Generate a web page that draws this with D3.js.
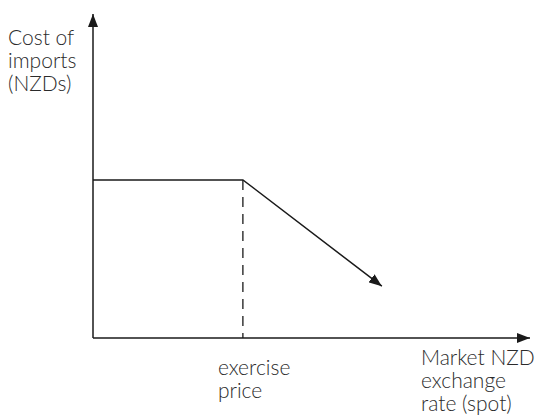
<!DOCTYPE html>
<html>
<head>
<meta charset="utf-8">
<script src="https://cdn.jsdelivr.net/npm/d3@7"></script>
<style>
  body { margin: 0; background: #fff; }
  text { font-family: "Lato", "Open Sans", sans-serif; font-weight: 300; fill: #2b2b2b; }
</style>
</head>
<body>
<div id="chart"></div>
<script>
// Payoff of a capped import cost: flat up to the exercise price, then falling
const rateValues = [0, 3.43, 6.61];
const costValues = [4.88, 4.88, 1.6];
const exercisePrice = 3.43;
const yLabelLines = ["Cost of", "imports", "(NZDs)"];
const xLabelLines = ["Market NZD", "exchange", "rate (spot)"];
const priceLabelLines = ["exercise", "price"];

const width = 539;
const height = 416;
const margin = { top: 14, right: 9, bottom: 78, left: 93 };

const svg = d3
  .select("#chart")
  .append("svg")
  .attr("width", width)
  .attr("height", height);

const xScale = d3.scaleLinear().domain([0, 10]).range([margin.left, width - margin.right]);
const yScale = d3.scaleLinear().domain([0, 10]).range([height - margin.bottom, margin.top]);

// arrowhead marker
svg.append("defs")
  .append("marker")
  .attr("id", "arrow")
  .attr("viewBox", "0 0 13 10")
  .attr("refX", 13)
  .attr("refY", 5)
  .attr("markerWidth", 13)
  .attr("markerHeight", 10)
  .attr("markerUnits", "userSpaceOnUse")
  .attr("orient", "auto")
  .append("path")
  .attr("d", "M0,0 L13,5 L0,10 Z")
  .attr("fill", "#1a1a1a");

// axes
svg.append("line")
  .attr("x1", xScale(0)).attr("y1", yScale(0))
  .attr("x2", xScale(0)).attr("y2", yScale(10))
  .attr("stroke", "#1a1a1a").attr("stroke-width", 1.5)
  .attr("marker-end", "url(#arrow)");

svg.append("line")
  .attr("x1", xScale(0)).attr("y1", yScale(0))
  .attr("x2", xScale(10)).attr("y2", yScale(0))
  .attr("stroke", "#1a1a1a").attr("stroke-width", 1.5)
  .attr("marker-end", "url(#arrow)");

// dashed line at the exercise price
svg.append("line")
  .attr("x1", xScale(exercisePrice)).attr("y1", yScale(costValues[1]))
  .attr("x2", xScale(exercisePrice)).attr("y2", yScale(0))
  .attr("stroke", "#1a1a1a").attr("stroke-width", 1.3)
  .attr("stroke-dasharray", "10,7");

// payoff line
const line = d3.line()
  .x((d, i) => xScale(rateValues[i]))
  .y((d) => yScale(d));

svg.append("path")
  .datum(costValues)
  .attr("fill", "none")
  .attr("stroke", "#1a1a1a")
  .attr("stroke-width", 1.5)
  .attr("d", line)
  .attr("marker-end", "url(#arrow)");

// labels
function addLines(lines, x, y, anchor) {
  const t = svg.append("text")
    .attr("x", x).attr("y", y)
    .style("font-size", "21px")
    .style("text-anchor", anchor);
  lines.forEach((s, i) => {
    t.append("tspan").attr("x", x).attr("dy", i === 0 ? 0 : 23).text(s);
  });
}

addLines(yLabelLines, 8, 45, "start");
addLines(xLabelLines, 421, 365, "start");
addLines(priceLabelLines, xScale(exercisePrice) - 25, 375, "start");
</script>
</body>
</html>
